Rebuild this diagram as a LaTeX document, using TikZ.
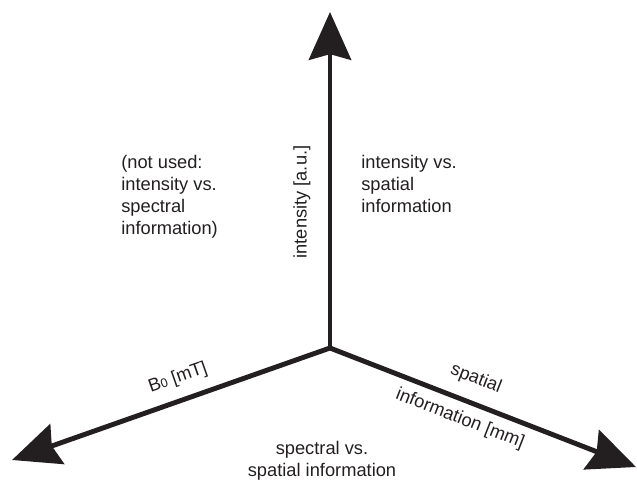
\documentclass[tikz,border=0pt]{standalone}
\usepackage{fontspec}
\setmainfont{Liberation Sans}
\usetikzlibrary{arrows.meta}
\definecolor{axisgray}{RGB}{35,31,32}

\begin{document}
\begin{tikzpicture}[x=0.025cm, y=-0.025cm,
    axis/.style={line width=3.5pt, draw=axisgray, -{Stealth[length=34pt, width=30pt, inset=4pt]}},
    lbl/.style={font=\fontsize{13}{15.6}\selectfont, text=axisgray, inner sep=0pt}]
    \useasboundingbox (0, 0) rectangle (637, 480);

    % Ursprung und Achsenspitzen
    \coordinate (o) at (330, 348);
    \coordinate (up) at (330, 12);
    \coordinate (left) at (12, 460);
    \coordinate (right) at (636, 467);

    % Achsen
    \draw[axis] (o) -- (up);
    \draw[axis] (o) -- (left);
    \draw[axis] (o) -- (right);

    % Achsenbeschriftungen
    \node[lbl, rotate=90] (intens) at (302, 202) {intensity [a.u.]};
    \node[lbl, rotate=19.3] (bnull) at (178, 378) {B{\fontsize{9}{9}\selectfont 0} [mT]};
    \node[lbl, rotate=-21.3] (spat) at (476, 379) {spatial};
    \node[lbl, rotate=-21.3] (spatmm) at (460, 419) {information [mm]};

    % Ebenen
    \node[lbl, anchor=north west, align=left] (notused) at (121, 155)
        {(not used:\\intensity vs.\\spectral\\information)};
    \node[lbl, anchor=north west, align=left] (intspat) at (361, 155)
        {intensity vs.\\spatial\\information};
    \node[lbl, anchor=north, align=center] (specspat) at (322, 441)
        {spectral vs.\\spatial information};
\end{tikzpicture}
\end{document}
